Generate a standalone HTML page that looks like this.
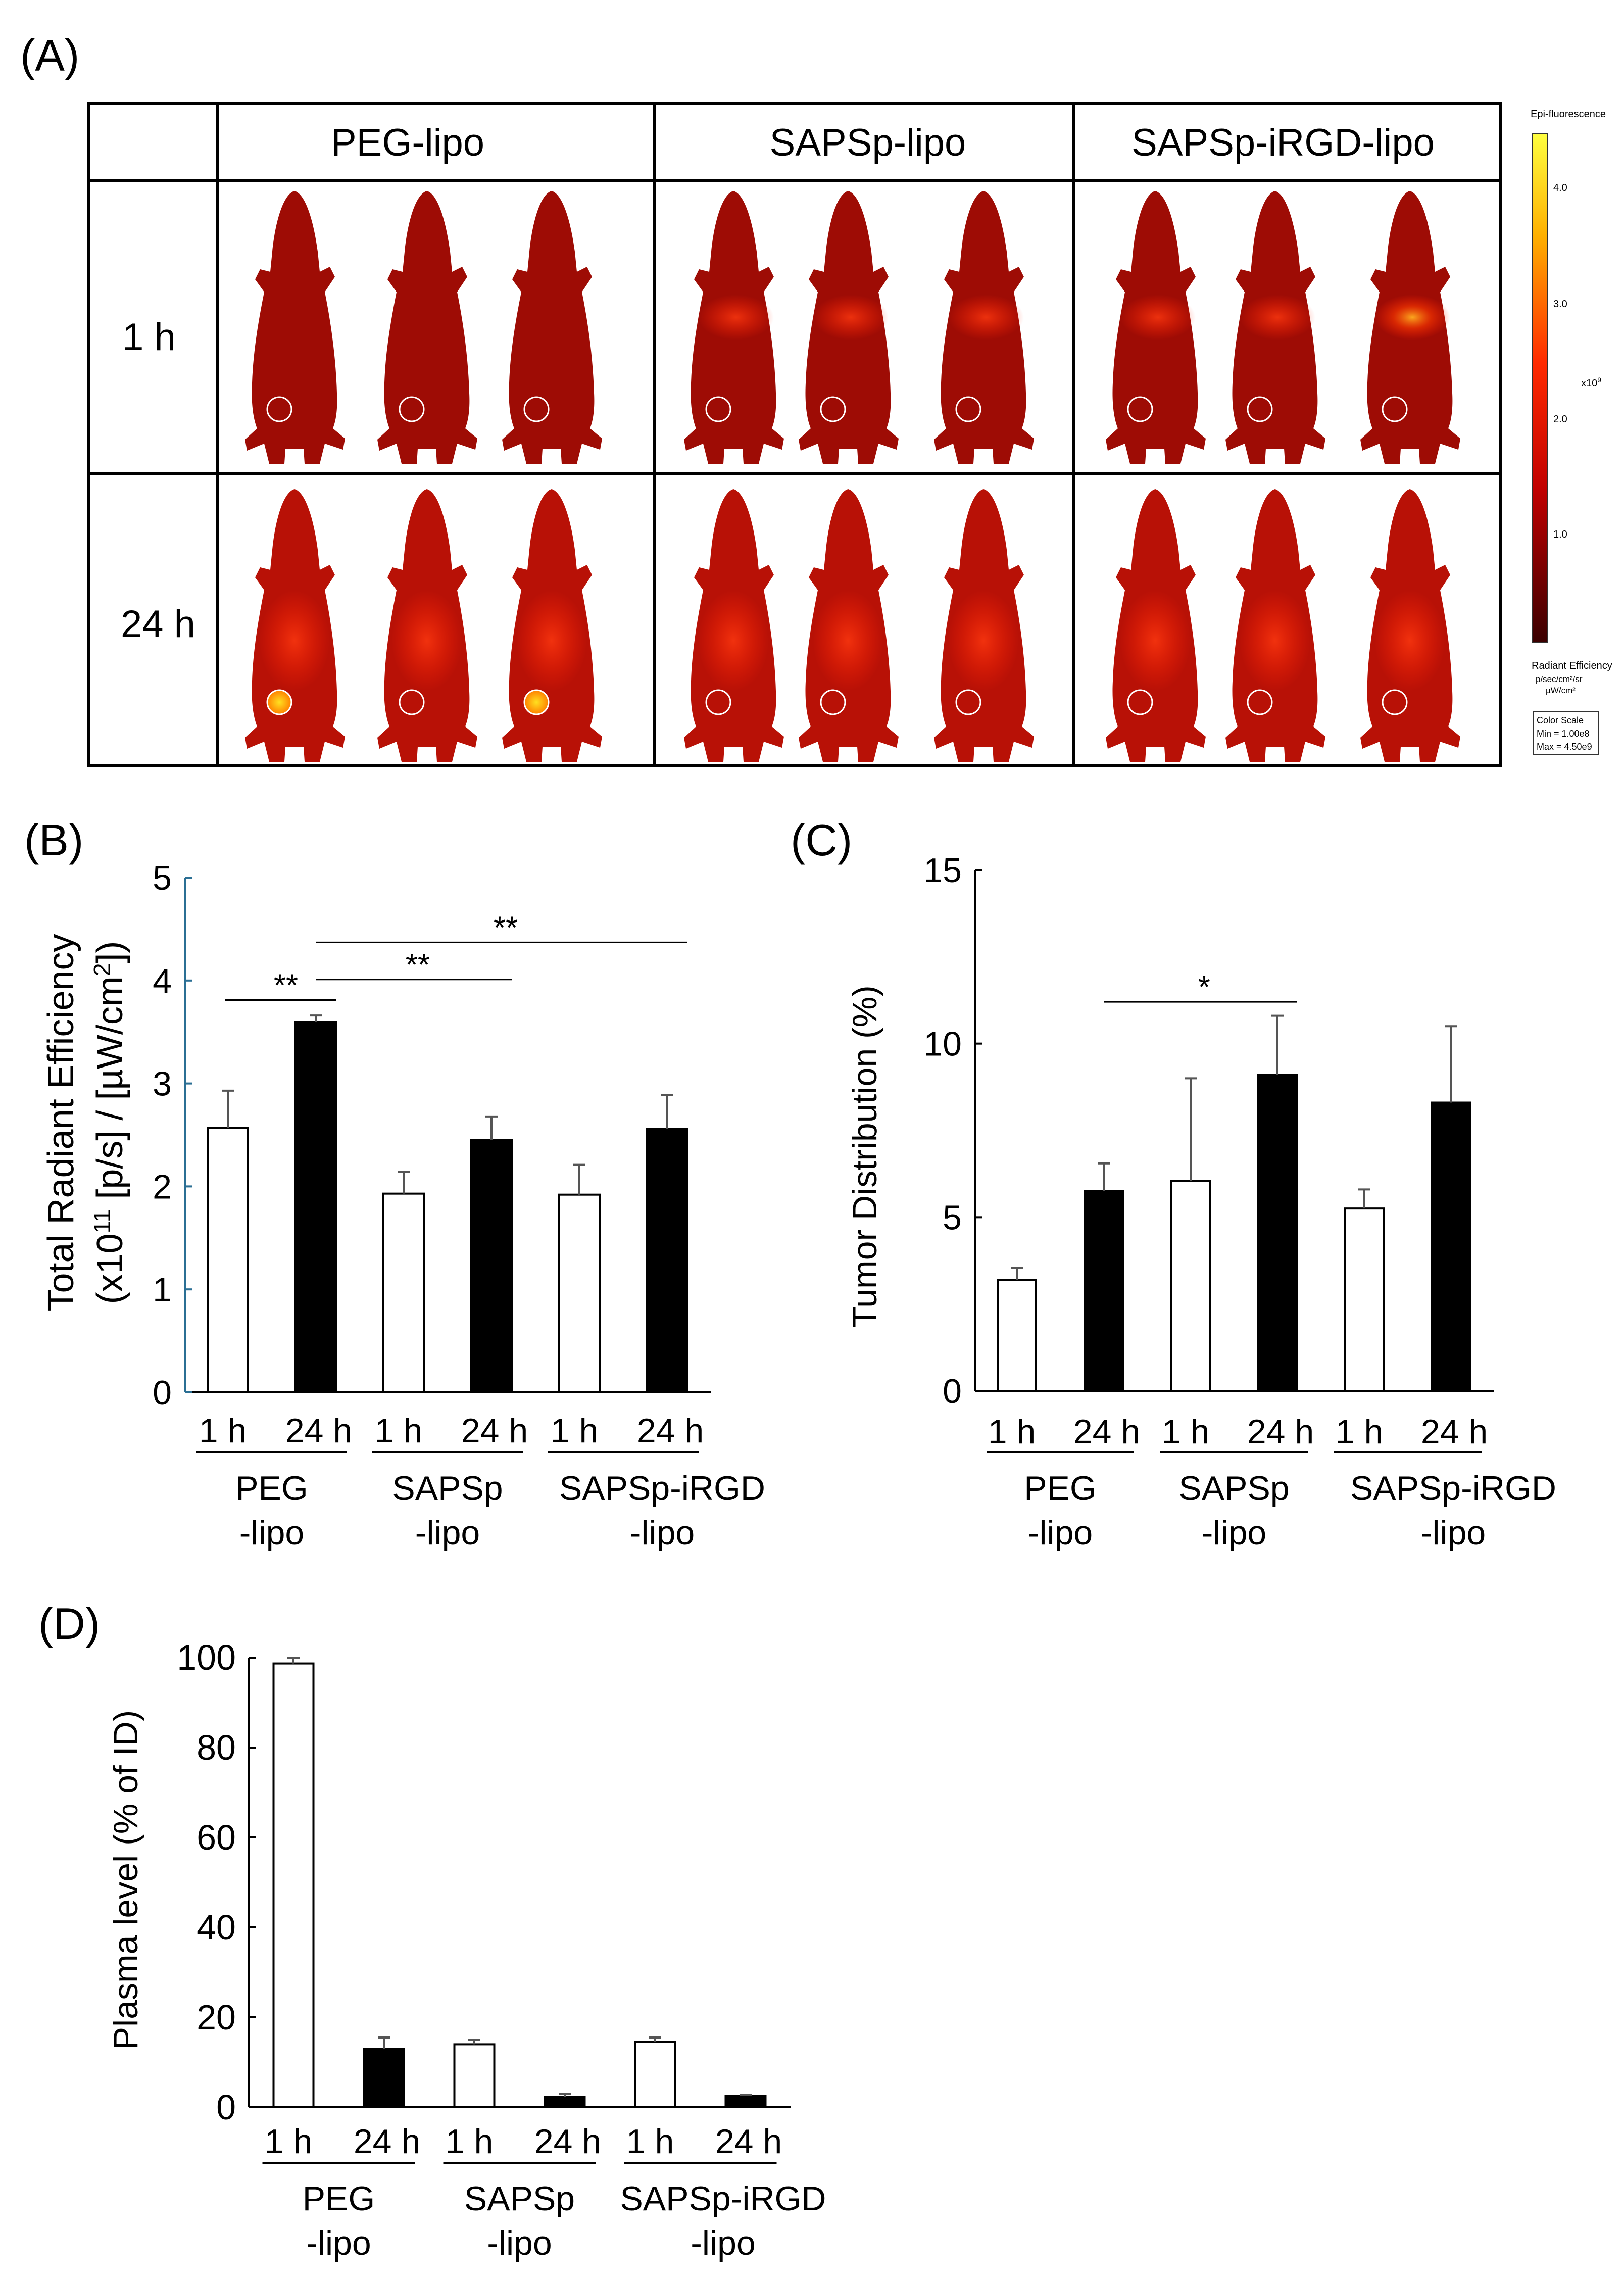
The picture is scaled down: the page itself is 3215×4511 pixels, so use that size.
<!DOCTYPE html>
<html><head><meta charset="utf-8">
<style>
html,body{margin:0;padding:0;background:#fff;}
svg{display:block;font-family:"Liberation Sans",Arial,sans-serif;}
</style></head>
<body>
<svg id="fig" width="3215" height="4511" viewBox="0 0 3215 4511" xmlns="http://www.w3.org/2000/svg">
<defs>
  <linearGradient id="cbar" x1="0" y1="0" x2="0" y2="1">
    <stop offset="0" stop-color="#ffff40"/>
    <stop offset="0.2" stop-color="#ffb000"/>
    <stop offset="0.45" stop-color="#ff2a00"/>
    <stop offset="0.7" stop-color="#c00000"/>
    <stop offset="1" stop-color="#3a0000"/>
  </linearGradient>
  <radialGradient id="hot" cx="0.5" cy="0.5" r="0.5">
    <stop offset="0" stop-color="#ffb020" stop-opacity="0.95"/>
    <stop offset="0.5" stop-color="#ff3a00" stop-opacity="0.6"/>
    <stop offset="1" stop-color="#ff2000" stop-opacity="0"/>
  </radialGradient>
  <radialGradient id="warm" cx="0.5" cy="0.5" r="0.5">
    <stop offset="0" stop-color="#ff3a10" stop-opacity="0.8"/>
    <stop offset="1" stop-color="#ff2000" stop-opacity="0"/>
  </radialGradient>
  <radialGradient id="roiHot" cx="0.5" cy="0.5" r="0.5">
    <stop offset="0" stop-color="#ffe020"/>
    <stop offset="1" stop-color="#ff8000"/>
  </radialGradient>
</defs>

<!-- Panel A -->
<text x="40" y="140" font-size="88">(A)</text>
<g stroke="#000" stroke-width="6" fill="none">
  <rect x="175" y="205" width="2795" height="1310"/>
  <line x1="430" y1="205" x2="430" y2="1515"/>
  <line x1="1295" y1="205" x2="1295" y2="1515"/>
  <line x1="2125" y1="205" x2="2125" y2="1515"/>
  <line x1="175" y1="358" x2="2970" y2="358"/>
  <line x1="175" y1="937" x2="2970" y2="937"/>
</g>
<g font-size="76" text-anchor="middle" fill="#000">
  <text x="807" y="308">PEG-lipo</text>
  <text x="1718" y="308">SAPSp-lipo</text>
  <text x="2540" y="308">SAPSp-iRGD-lipo</text>
  <text x="295" y="693">1 h</text>
  <text x="313" y="1261">24 h</text>
</g>
<g id="mice"></g>

<!-- color bar -->
<g font-size="20" fill="#000">
  <text x="3030" y="232">Epi-fluorescence</text>
  <rect x="3034" y="265" width="29" height="1007" fill="url(#cbar)" stroke="#333" stroke-width="2"/>
  <text x="3075" y="378">4.0</text>
  <text x="3075" y="608">3.0</text>
  <text x="3075" y="836">2.0</text>
  <text x="3075" y="1064">1.0</text>
  <text x="3130" y="765">x10<tspan dy="-8" font-size="14">9</tspan></text>
  <text x="3032" y="1324">Radiant Efficiency</text>
  <text x="3040" y="1350" font-size="17">p/sec/cm²/sr</text>
  <text x="3060" y="1372" font-size="17">µW/cm²</text>
  <rect x="3035" y="1408" width="130" height="86" fill="none" stroke="#333" stroke-width="2"/>
  <text x="3042" y="1432" font-size="18">Color Scale</text>
  <text x="3042" y="1458" font-size="18">Min = 1.00e8</text>
  <text x="3042" y="1484" font-size="18">Max = 4.50e9</text>
</g>

<text x="48" y="1693" font-size="88">(B)</text>
<text x="1565" y="1693" font-size="88">(C)</text>
<text x="76" y="3244" font-size="88">(D)</text>

<g id="chartB"></g>
<g id="chartC"></g>
<g id="chartD"></g>
</svg>

<script>
// ---- Chart data (B) ----
const bCategories = ["PEG 1 h","PEG 24 h","SAPSp 1 h","SAPSp 24 h","SAPSp-iRGD 1 h","SAPSp-iRGD 24 h"];
const bValues = [2.57, 3.60, 1.93, 2.45, 1.92, 2.56];
const bErrors = [0.36, 0.06, 0.21, 0.23, 0.29, 0.33];
const bTicks = [0, 1, 2, 3, 4, 5];
// ---- Chart data (C) ----
const cValues = [3.2, 5.75, 6.05, 9.1, 5.25, 8.3];
const cErrors = [0.35, 0.8, 2.95, 1.7, 0.55, 2.2];
const cTicks = [0, 5, 10, 15];
// ---- Chart data (D) ----
const dValues = [98.7, 13.0, 14.0, 2.3, 14.5, 2.5];
const dErrors = [1.3, 2.5, 1.0, 0.7, 1.0, 0.2];
const dTicks = [0, 20, 40, 60, 80, 100];
// shared labels
const timeLabels = ["1 h","24 h","1 h","24 h","1 h","24 h"];
const groupLine1 = ["PEG","SAPSp","SAPSp-iRGD"];
const groupLine2 = ["-lipo","-lipo","-lipo"];

const NS = "http://www.w3.org/2000/svg";
function mk(tag, attrs, parent){
  const e = document.createElementNS(NS, tag);
  for (const k in attrs) e.setAttribute(k, attrs[k]);
  parent.appendChild(e);
  return e;
}

function drawChart(g, L, values, errors, ticks, sig, axisColor){
  const yScale = v => L.y0 - (v - L.min) / (L.max - L.min) * (L.y0 - L.yTop);
  const xC = i => L.first + i * L.step;
  values.forEach((v, i) => {
    const top = yScale(v);
    const r = mk("rect", {x: xC(i) - L.bw/2, y: top, width: L.bw, height: L.y0 - top,
      fill: i % 2 ? "#000" : "#fff", stroke: "#000", "stroke-width": 4}, g);
    
    
    const et = yScale(v + errors[i]);
    const e = mk("path", {d: `M${xC(i)},${top} V${et} M${xC(i)-12},${et} H${xC(i)+12}`, stroke: "#555", "stroke-width": 4, fill: "none"}, g);
    
    
  });
  const ax = mk("line", {x1: L.x0, y1: L.yTop, x2: L.x0, y2: L.y0, stroke: axisColor, "stroke-width": 4}, g);
  
  
  const bx = mk("line", {x1: L.x0, y1: L.y0, x2: L.xEnd, y2: L.y0, stroke: "#000", "stroke-width": 4}, g);
  
  
  ticks.forEach(t => {
    const y = yScale(t);
    const tk = mk("line", {x1: L.x0, y1: y, x2: L.x0 + 14, y2: y, stroke: axisColor, "stroke-width": 4}, g);
    
    
    const tl = mk("text", {x: L.x0 - 26, y: y + 24, "font-size": L.tickFont, "text-anchor": "end"}, g);
    tl.textContent = t;
    
    
  });
  timeLabels.forEach((t, i) => {
    const tx = mk("text", {x: xC(i) + (i%2 ? 6 : -10), y: L.labY, "font-size": 68, "text-anchor": "middle"}, g);
    tx.textContent = t;
    
    
  });
  groupLine1.forEach((t, k) => {
    const a = xC(2*k) - L.bw/2 - 22, b = xC(2*k+1) + L.bw/2 + 22;
    const ul = mk("line", {x1: a, y1: L.ulY, x2: b, y2: L.ulY, stroke: "#000", "stroke-width": 4}, g);
    
    
    const c = (a + b) / 2 + (k === 2 ? L.lastShift : 0);
    const g1 = mk("text", {x: c, y: L.ulY + 94, "font-size": 68, "text-anchor": "middle"}, g);
    g1.textContent = t;
    
    
    const g2 = mk("text", {x: c, y: L.ulY + 182, "font-size": 68, "text-anchor": "middle"}, g);
    g2.textContent = groupLine2[k];
    
    
  });
  sig.forEach(s => {
    const y = yScale(s.v);
    const a = xC(s.from), b = xC(s.to) + L.bw/2;
    const sl = mk("line", {x1: s.from % 2 ? a : a - L.bw/2 + 35, y1: y, x2: b, y2: y, stroke: "#000", "stroke-width": 3}, g);
    
    
    const st = mk("text", {x: (a + b)/2 + 8, y: y - 8, "font-size": 62, "text-anchor": "middle"}, g);
    st.textContent = s.label;
    
    
  });
  L.title.forEach((line, k) => {
    const tx = L.titleX[k], ty = L.titleY;
    const yt = mk("text", {x: tx, y: ty, "font-size": L.titleFont, "text-anchor": "middle", transform: `rotate(-90 ${tx} ${ty})`}, g);
    yt.innerHTML = line;
    
    
  });
}

drawChart(document.getElementById("chartB"),
  {x0: 366, xEnd: 1407, y0: 2756, yTop: 1737, min: 0, max: 5, first: 451, step: 174, bw: 80,
   labY: 2855, ulY: 2875, tickFont: 68, titleFont: 72, lastShift: 77,
   title: ["Total Radiant Efficiency", "(x10<tspan dy='-24' font-size='46'>11</tspan><tspan dy='24'> [p/s] / [µW/cm</tspan><tspan dy='-24' font-size='46'>2</tspan><tspan dy='24'>])</tspan>"],
   titleX: [145, 242], titleY: 2222},
  bValues, bErrors, bTicks,
  [{from: 0, to: 1, v: 3.81, label: "**"}, {from: 1, to: 3, v: 4.01, label: "**"}, {from: 1, to: 5, v: 4.37, label: "**"}],
  "#2b6f94");

drawChart(document.getElementById("chartC"),
  {x0: 1930, xEnd: 2958, y0: 2753, yTop: 1722, min: 0, max: 15, first: 2013, step: 172, bw: 76,
   labY: 2857, ulY: 2875, tickFont: 68, titleFont: 68, lastShift: 90, title: ["Tumor Distribution (%)"], titleX: [1735], titleY: 2289},
  cValues, cErrors, cTicks,
  [{from: 1, to: 3, v: 11.2, label: "*"}], "#000");

drawChart(document.getElementById("chartD"),
  {x0: 493, xEnd: 1566, y0: 4171, yTop: 3281, min: 0, max: 100, first: 581, step: 179, bw: 79,
   labY: 4262, ulY: 4281, tickFont: 70, titleFont: 68, lastShift: 45, title: ["Plasma level (% of ID)"], titleX: [272], titleY: 3721},
  dValues, dErrors, dTicks, [], "#000");

// ---- Mouse images (panel A) ----
const mouseX = [583, 845, 1092, 1452, 1679, 1947, 2287, 2524, 2791];
const rowTop = [378, 968];
const roiY = [790, 1370];
const mousePath = "M100,0 C122,6 138,60 146,120 L150,160 L170,150 L180,170 L160,200 C172,260 182,330 184,400 C186,440 180,460 176,470 L200,490 L196,512 L160,500 L150,540 L120,540 L118,510 L82,510 L80,540 L50,540 L40,500 L6,514 L2,492 L26,470 C18,450 14,420 16,380 C18,320 28,260 40,200 L22,175 L32,155 L52,160 L56,120 C62,60 78,6 100,0 Z";
const miceG = document.getElementById("mice");
rowTop.forEach((ty, r) => {
  mouseX.forEach((cx, m) => {
    const g = mk("g", {transform: `translate(${cx-100},${ty})`}, miceG);
    
    
    mk("path", {d: mousePath, fill: r ? "#b81106" : "#9e0c05"}, g);
    const col = Math.floor(m / 3);
    if (r === 0 && col > 0) mk("ellipse", {cx: 105, cy: 250, rx: 75, ry: 45, fill: m === 8 ? "url(#hot)" : "url(#warm)"}, g);
    if (r === 1) mk("ellipse", {cx: 100, cy: 300, rx: 70, ry: 100, fill: "url(#warm)"}, g);
    const hotRoi = r === 1 && (m === 0 || m === 2);
    const roi = mk("ellipse", {cx: 70, cy: roiY[r] - ty + 20, rx: 24, ry: 24, fill: hotRoi ? "url(#roiHot)" : "none", stroke: "#fff", "stroke-width": 3}, g);
    
    
  });
});
</script>
</body></html>
